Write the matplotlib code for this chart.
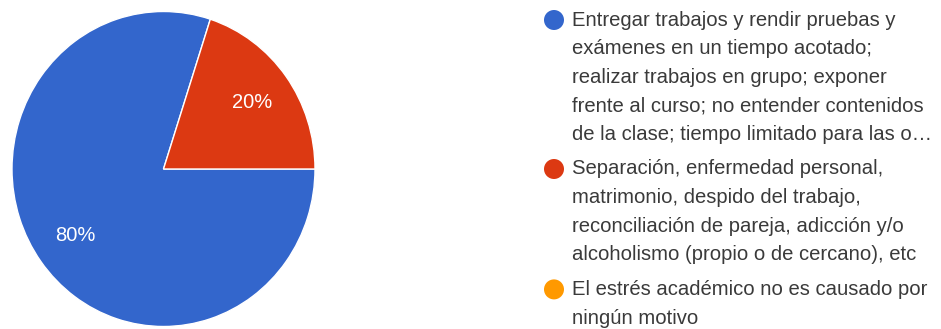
import matplotlib
matplotlib.use("Agg")
import matplotlib.pyplot as plt
from matplotlib.patches import Circle

# Survey answers: share of respondents per cause of academic stress
shares = [80, 20, 0]
colors = ["#3366CC", "#DC3912", "#FF9900"]
legend_lines = [
    ["Entregar trabajos y rendir pruebas y",
     "exámenes en un tiempo acotado;",
     "realizar trabajos en grupo; exponer",
     "frente al curso; no entender contenidos",
     "de la clase; tiempo limitado para las o…"],
    ["Separación, enfermedad personal,",
     "matrimonio, despido del trabajo,",
     "reconciliación de pareja, adicción y/o",
     "alcoholismo (propio o de cercano), etc"],
    ["El estrés académico no es causado por",
     "ningún motivo"],
]

W, H = 941, 329
fig = plt.figure(figsize=(W / 100, H / 100), dpi=100)
fig.patch.set_facecolor("white")
plt.rcParams["font.family"] = ["Liberation Sans", "DejaVu Sans"]

# Pie area in pixels; the disc is a touch taller than wide
cx, cy, rx, ry = 163.5, 169, 151.5, 157.5
ax = fig.add_axes([(cx - rx) / W, (H - cy - ry) / H, 2 * rx / W, 2 * ry / H])

wedges, texts, autotexts = ax.pie(
    shares[:2], colors=colors[:2], startangle=72, counterclock=True,
    radius=1.0, autopct="%d%%", pctdistance=0.72,
    wedgeprops=dict(edgecolor="white", linewidth=1.0),
    textprops=dict(color="white", fontsize=14.5),
)
# pie() pads the limits to 1.25, pull them back so the disc fills the axes
ax.set_aspect("auto")
ax.set_xlim(-1, 1)
ax.set_ylim(-1, 1)
ax.axis("off")

# Legend drawn by hand so the wrapped lines sit like the original
lax = fig.add_axes([0, 0, 1, 1])
lax.set_xlim(0, W)
lax.set_ylim(H, 0)
lax.axis("off")

line_step = 28.6
y = 20
for lines, col in zip(legend_lines, colors):
    lax.add_patch(Circle((554, y), 10, facecolor=col, edgecolor="none"))
    for i, line in enumerate(lines):
        lax.text(572, y + i * line_step, line, fontsize=14.6, color="#3a3a3a",
                 ha="left", va="center")
    y += len(lines) * line_step + 6

fig.savefig("out.png", dpi=100)
